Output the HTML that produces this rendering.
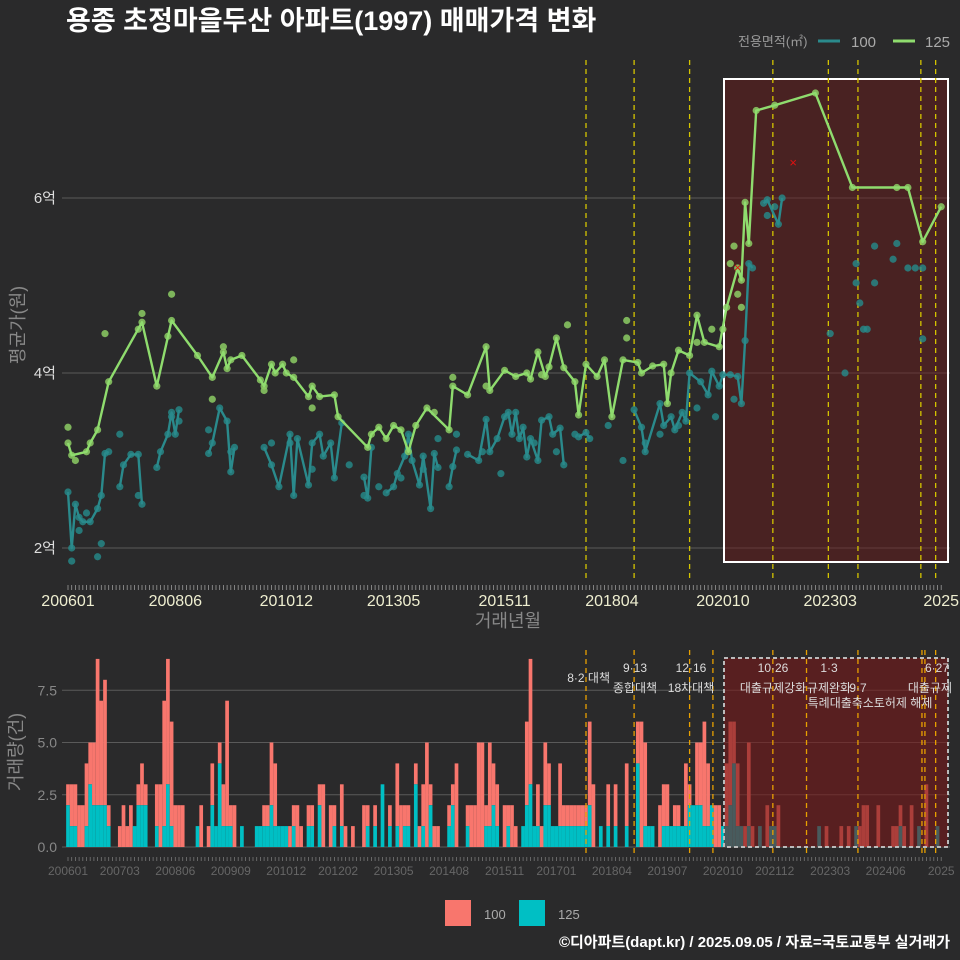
<!DOCTYPE html>
<html><head><meta charset="utf-8">
<style>
html,body{margin:0;padding:0;background:#2a2a2b;}
svg{display:block;font-family:"Liberation Sans","Noto Sans CJK KR",sans-serif;}
</style></head>
<body>
<svg id="chart" width="960" height="960" viewBox="0 0 960 960" xmlns="http://www.w3.org/2000/svg">
<rect width="960" height="960" fill="#2a2a2b"/>
<text x="66" y="30" fill="#ffffff" font-size="27" font-weight="bold">용종 초정마을두산 아파트(1997) 매매가격 변화</text>
<g>
<text x="738" y="46" fill="#999" font-size="13">전용면적(㎡)</text>
<line x1="818" y1="41" x2="840" y2="41" stroke="#2a8a8c" stroke-width="3"/>
<text x="851" y="47" fill="#aaa" font-size="15">100</text>
<line x1="893" y1="41" x2="915" y2="41" stroke="#8fdc6e" stroke-width="3"/>
<text x="925" y="47" fill="#aaa" font-size="15">125</text>
</g>
<g id="topPanel"></g>
<g id="botPanel"></g>
<g>
<rect x="445" y="900" width="26" height="26" fill="#f8766d"/>
<text x="484" y="919" fill="#aaa" font-size="13">100</text>
<rect x="519" y="900" width="26" height="26" fill="#00bfc4"/>
<text x="558" y="919" fill="#aaa" font-size="13">125</text>
</g>
<text x="950" y="947" text-anchor="end" fill="#fff" font-size="15" font-weight="bold">©디아파트(dapt.kr) / 2025.09.05 / 자료=국토교통부 실거래가</text>
</svg>
<script>
// ---- data (month index from 2006-01; prices in 억) ----
const line125M = [0,1,5,6,8,11,20,24,28,35,39,42,43,44,47,52,53,55,56,58,59,61,65,66,68,72,73,81,82,84,86,88,90,92,94,97,103,104,108,113,114,118,121,124,125,127,129,130,132,134,137,138,140,143,145,147,150,154,155,158,161,162,163,165,168,170,172,176,178,181,182,183,184,186,191,202,212,224,227,231,236];
const line125V = [3.2,3.06,3.1,3.2,3.35,3.9,4.58,3.85,4.6,4.2,3.95,4.24,4.05,4.15,4.2,3.92,3.85,4.1,4.0,4.1,4.0,3.95,3.73,3.85,3.73,3.75,3.5,3.15,3.3,3.38,3.25,3.4,3.35,3.1,3.4,3.6,3.35,3.85,3.75,4.3,3.8,4.03,3.96,4.0,3.93,4.24,3.96,4.07,4.4,4.06,3.9,3.52,4.1,3.96,4.15,3.5,4.15,4.12,4.0,4.08,4.1,3.65,4.0,4.26,4.2,4.66,4.35,4.3,4.75,5.2,5.06,5.95,5.48,7.0,7.06,7.2,6.12,6.12,6.12,5.5,5.9];
const extra125M = [0,2,10,19,20,28,27,39,42,53,61,66,99,104,113,128,135,151,151,170,174,177,179,180,181,182];
const extra125V = [3.38,3.0,4.45,4.5,4.68,4.9,4.42,3.7,4.3,3.8,4.15,3.6,3.55,3.95,3.85,3.98,4.55,4.6,4.4,4.35,4.5,4.5,5.25,5.45,4.9,4.75];
const line100M = [0,1,2,3,4,6,8,9,10,11,null,14,15,17,19,20,null,24,25,27,28,29,30,null,38,39,41,43,44,45,null,53,55,57,60,61,62,65,66,68,69,71,72,74,null,80,81,82,null,86,88,89,91,92,93,95,96,98,99,100,null,103,104,105,null,108,111,113,114,116,118,119,120,121,122,123,124,125,127,128,130,131,133,134,null,138,140,141,null,153,155,156,160,161,163,164,166,167,168,171,173,174,176,177,179,181,182,183,184,185,null,188,189,192,193];
const line100V = [2.64,2.0,2.5,2.35,2.3,2.3,2.45,2.6,3.08,3.1,null,2.7,2.95,3.07,3.07,2.5,null,2.92,3.1,3.3,3.55,3.3,3.58,null,3.08,3.2,3.6,3.45,2.87,3.15,null,3.15,2.95,2.7,3.3,2.6,3.25,2.72,3.2,3.3,3.05,3.2,2.8,3.43,null,2.81,2.57,3.15,null,2.63,2.7,2.85,3.05,3.3,3.0,2.72,3.05,2.45,3.08,2.92,null,2.7,2.93,3.12,null,3.07,3.0,3.47,3.1,3.25,3.5,3.55,3.3,3.55,3.25,3.38,3.04,3.25,3.0,3.46,3.5,3.3,3.37,2.95,null,3.27,3.32,3.25,null,3.58,3.38,3.1,3.65,3.4,3.5,3.35,3.55,3.45,4.0,3.9,3.75,4.02,3.85,3.98,3.98,3.96,3.65,4.37,5.25,5.2,null,5.94,5.98,5.7,6.0];
const extra100M = [1,8,9,3,5,14,19,28,30,38,44,55,60,66,76,80,84,90,96,100,105,112,117,126,132,137,146,150,156,160,165,170,175,180,189,191,206,210,213,214,213,215,216,218,218,223,224,227,229,231,231];
const extra100V = [1.85,1.9,2.05,2.2,2.4,3.3,2.6,3.5,3.45,3.35,3.1,3.2,3.2,2.9,2.95,2.6,2.7,2.8,2.9,3.25,3.3,3.1,2.85,3.2,3.1,3.3,3.4,3.0,3.2,3.3,3.4,3.6,3.5,3.7,5.8,5.9,4.45,4.0,5.25,4.8,5.03,4.5,4.5,5.03,5.45,5.3,5.48,5.2,5.2,5.2,4.39];
const crossM = [181,196];
const crossV = [5.2,6.4];
const yTicks = [2,4,6];
const yTickLabels = ["2억","4억","6억"];
const xLabelMonths = [0,29,59,88,118,147,177,206,236];
const xLabels = ["200601","200806","201012","201305","201511","201804","202010","202303","2025"];
const policyTop = [140,153,168,190.5,205.5,213.5,230.5,234.5];
const policyBot = [140,153,168,174.3,190.5,199.6,213.5,230.8,231.6,234.5];
// monthly volumes: total and 125 portion
const volTotal = [3,3,3,2,2,4,5,5,9,7,8,2,0,0,1,2,1,2,1,3,4,3,0,0,3,3,7,9,6,2,2,2,0,0,0,1,2,0,1,4,1,5,3,7,2,2,0,1,0,0,0,1,1,2,2,5,4,1,1,1,1,2,2,1,0,2,2,0,3,3,0,2,2,0,3,1,0,1,0,0,2,2,0,2,0,3,0,2,0,4,2,2,2,0,4,1,3,5,3,1,1,0,0,2,3,4,0,0,2,2,2,5,5,2,5,4,3,0,2,2,2,1,0,1,6,9,1,3,1,5,4,1,1,4,2,2,2,2,2,2,2,6,3,0,1,0,3,0,3,0,0,4,0,0,6,6,5,1,1,0,2,3,3,1,2,2,1,4,3,2,5,5,6,4,2,2,2,1,4,6,6,4,1,1,5,1,0,1,0,2,1,1,2,0,0,0,0,0,0,0,0,0,0,1,0,1,0,0,0,1,0,1,0,1,1,2,2,0,0,2,0,0,0,1,1,2,1,0,2,0,1,0,3,0,0,0,0,1];
const vol125 = [2,1,1,0,0,1,3,2,2,2,2,1,0,0,0,0,0,0,1,2,2,2,0,0,1,0,1,3,1,0,0,0,0,0,0,1,0,0,0,2,1,4,1,1,1,0,0,1,0,0,0,1,1,1,1,2,1,1,1,1,0,1,0,0,0,1,1,0,2,0,0,0,1,0,1,0,0,0,0,0,0,1,0,1,0,3,0,1,0,1,0,1,1,0,3,0,1,0,2,0,0,0,0,1,2,0,0,0,1,0,0,0,0,1,1,2,1,0,0,1,0,0,0,1,2,3,1,1,0,2,2,1,1,1,1,1,1,1,1,1,1,2,0,0,1,0,1,0,1,0,0,1,0,0,4,0,1,1,1,0,0,1,1,1,1,1,1,1,2,2,2,2,1,1,2,0,0,1,1,2,4,1,1,0,1,0,0,1,0,0,1,1,0,0,0,0,0,0,0,0,0,0,0,1,0,0,0,0,0,0,0,0,0,1,0,0,0,0,0,0,0,0,0,0,0,1,0,0,0,0,1,0,0,0,0,1];
const botTicks = [0,2.5,5,7.5];
const botTickLabels = ["0.0","2.5","5.0","7.5"];
const botLabelMonths = [0,14,29,44,59,73,88,103,118,132,147,162,177,191,206,221,236];
const botLabels = ["200601","200703","200806","200909","201012","201202","201305","201408","201511","201701","201804","201907","202010","202112","202303","202406","2025"];
const annTop = [["8·2 대책",610,682,"end"],["9·13",635,672,"middle"],["종합대책",635,692,"middle"],["12·16",691,672,"middle"],["18차대책",691,692,"middle"],["10·26",773,672,"middle"],["대출규제강화",773,692,"middle"],["1·3",829,672,"middle"],["규제완화",829,692,"middle"],["9·7",858,692,"middle"],["특례대출축소토허제 해제",870,707,"middle"],["6·27",937,672,"middle"],["대출규제",952,692,"end"]];

// ---- scales ----
const X = m => 68 + 3.7*m;
const Y = v => 548 - (v-2)*87.5;
const YB = v => 847 - v*20.9;
const NS = "http://www.w3.org/2000/svg";
function mk(tag, attrs, parent){const e=document.createElementNS(NS,tag);for(const k in attrs)e.setAttribute(k,attrs[k]);parent.appendChild(e);return e;}
const topG = document.getElementById('topPanel');
const botG = document.getElementById('botPanel');

// top grid
yTicks.forEach((t,i)=>{
  const g=mk('line',{x1:62,x2:950,y1:Y(t),y2:Y(t),stroke:'#5a5a5a','stroke-width':1},topG);
  
  
  const l=mk('text',{x:56,y:Y(t)+5,'text-anchor':'end',fill:'#ddd','font-size':15},topG);
  l.textContent=yTickLabels[i];
  
  
});
const hb=mk('rect',{x:724,y:79,width:224,height:483,fill:'rgba(110,25,25,0.45)',stroke:'#fff','stroke-width':2},topG);


policyTop.forEach(m=>{
  const l=mk('line',{x1:X(m),x2:X(m),y1:60,y2:582,stroke:'#d4c400','stroke-width':1.3,'stroke-dasharray':'5,4'},topG);
  
  
});
for(let m=0;m<=236;m++){
  const t=mk('line',{x1:X(m),x2:X(m),y1:585,y2:590,stroke:'#999','stroke-width':0.8},topG);
  
  
}
xLabelMonths.forEach((m,i)=>{
  const t=mk('text',{x:X(m),y:606,'text-anchor':'middle',fill:'#eeeed0','font-size':16},topG);
  t.textContent=xLabels[i];
  
  
});
const xt=mk('text',{x:508,y:627,'text-anchor':'middle',fill:'#888','font-size':18},topG);
xt.textContent='거래년월';


const yt=mk('text',{x:0,y:0,transform:'translate(24,325) rotate(-90)','text-anchor':'middle',fill:'#888','font-size':18},topG);
yt.textContent='평균가(원)';



function pathFrom(Ms,Vs){let d='',pen=false;for(let i=0;i<Ms.length;i++){if(Ms[i]===null){pen=false;continue;}d+=(pen?'L':'M')+X(Ms[i]).toFixed(1)+','+Y(Vs[i]).toFixed(1);pen=true;}return d;}
for(let i=0;i<extra100M.length;i++){
  const c=mk('circle',{cx:X(extra100M[i]),cy:Y(extra100V[i]),r:3.6,fill:'rgba(38,140,140,0.8)'},topG);
  
  
}
for(let i=0;i<line100M.length;i++){ if(line100M[i]===null)continue;
  const c=mk('circle',{cx:X(line100M[i]),cy:Y(line100V[i]),r:3.6,fill:'rgba(38,140,140,0.8)'},topG);
  
  
}
const p100=mk('path',{d:pathFrom(line100M,line100V),fill:'none',stroke:'#2a8a8c','stroke-width':2.4,'stroke-linejoin':'round'},topG);


for(let i=0;i<extra125M.length;i++){
  const c=mk('circle',{cx:X(extra125M[i]),cy:Y(extra125V[i]),r:3.6,fill:'rgba(140,205,100,0.85)'},topG);
  
  
}
for(let i=0;i<line125M.length;i++){
  const c=mk('circle',{cx:X(line125M[i]),cy:Y(line125V[i]),r:3.6,fill:'rgba(140,205,100,0.85)'},topG);
  
  
}
const p125=mk('path',{d:pathFrom(line125M,line125V),fill:'none',stroke:'#8fdc6e','stroke-width':2.4,'stroke-linejoin':'round'},topG);


crossM.forEach((m,i)=>{
  const t=mk('text',{x:X(m),y:Y(crossV[i])+4,'text-anchor':'middle',fill:'#e01010','font-size':13},topG);
  t.textContent='×';
  
  
});

botTicks.forEach((t,i)=>{
  const g=mk('line',{x1:62,x2:950,y1:YB(t),y2:YB(t),stroke:'#5a5a5a','stroke-width':1},botG);
  
  
  const l=mk('text',{x:57,y:YB(t)+5,'text-anchor':'end',fill:'#888','font-size':14},botG);
  l.textContent=botTickLabels[i];
  
  
});
const ybt=mk('text',{x:0,y:0,transform:'translate(22,752) rotate(-90)','text-anchor':'middle',fill:'#888','font-size':18},botG);
ybt.textContent='거래량(건)';


for(let m=0;m<volTotal.length;m++){
  const tot=volTotal[m], t5=vol125[m];
  if(tot>t5){
    const r=mk('rect',{x:X(m)-1.85,y:YB(tot),width:3.7,height:YB(t5)-YB(tot),fill:'#f8766d'},botG);
    
    
  }
  if(t5>0){
    const r=mk('rect',{x:X(m)-1.85,y:YB(t5),width:3.7,height:YB(0)-YB(t5),fill:'#00bfc4'},botG);
    
    
  }
}
const bb=mk('rect',{x:724,y:658,width:224,height:189,fill:'rgba(120,25,25,0.6)',stroke:'#bbb','stroke-width':2,'stroke-dasharray':'4,3'},botG);


policyBot.forEach(m=>{
  const l=mk('line',{x1:X(m),x2:X(m),y1:650,y2:855,stroke:'#e8a000','stroke-width':1.3,'stroke-dasharray':'5,4'},botG);
  
  
});
annTop.forEach(a=>{
  const t=mk('text',{x:a[1],y:a[2],'text-anchor':a[3],fill:'#ddd','font-size':12},botG);
  t.textContent=a[0];
  
  
});
for(let m=0;m<=236;m++){
  const t=mk('line',{x1:X(m),x2:X(m),y1:857,y2:861,stroke:'#777','stroke-width':0.8},botG);
  
  
}
botLabelMonths.forEach((m,i)=>{
  const t=mk('text',{x:X(m),y:875,'text-anchor':'middle',fill:'#666','font-size':12},botG);
  t.textContent=botLabels[i];
  
  
});
</script>
</body></html>
